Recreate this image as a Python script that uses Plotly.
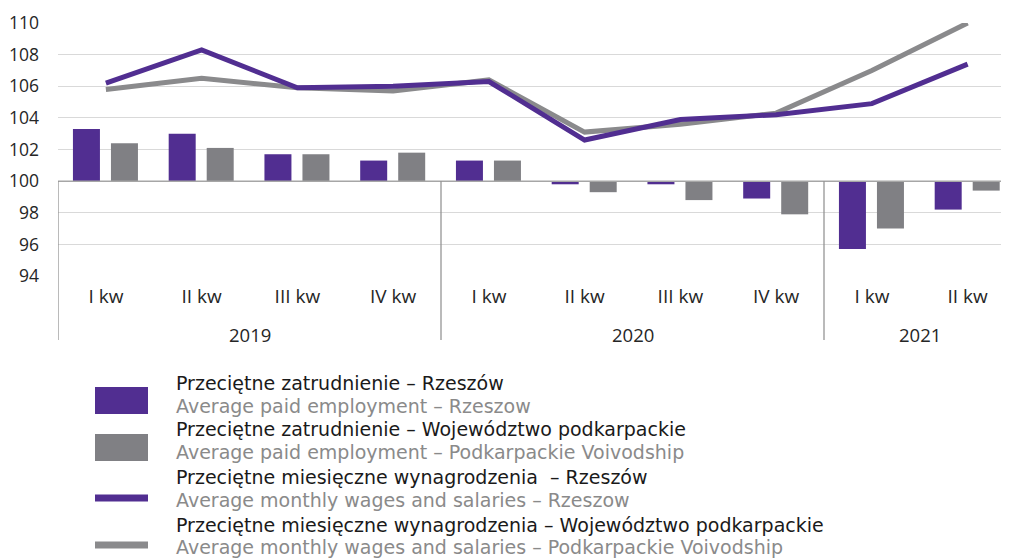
import plotly.graph_objects as go

quarters = ["I kw", "II kw", "III kw", "IV kw", "I kw", "II kw", "III kw", "IV kw", "I kw", "II kw"]
years = ["2019", "2020", "2021"]
year_groups = [(0, 3), (4, 7), (8, 9)]

emp_rzeszow = [103.3, 103.0, 101.7, 101.3, 101.3, 99.8, 99.8, 98.9, 95.7, 98.2]
emp_podkarpackie = [102.4, 102.1, 101.7, 101.8, 101.3, 99.3, 98.8, 97.9, 97.0, 99.4]
wage_rzeszow = [106.2, 108.3, 105.9, 106.0, 106.3, 102.6, 103.9, 104.2, 104.9, 107.4]
wage_podkarpackie = [105.8, 106.5, 105.9, 105.7, 106.4, 103.1, 103.6, 104.3, 107.0, 110.0]

legend_pl = [
    "Przeciętne zatrudnienie – Rzeszów",
    "Przeciętne zatrudnienie – Województwo podkarpackie",
    "Przeciętne miesięczne wynagrodzenia  – Rzeszów",
    "Przeciętne miesięczne wynagrodzenia – Województwo podkarpackie",
]
legend_en = [
    "Average paid employment – Rzeszow",
    "Average paid employment – Podkarpackie Voivodship",
    "Average monthly wages and salaries – Rzeszow",
    "Average monthly wages and salaries – Podkarpackie Voivodship",
]

PURPLE = "#512e91"
GRAY_BAR = "#808084"
GRAY_LINE = "#8a8a8c"
BASE = 100

OFF = 8  # page body margin
W, H = 1009 - OFF, 560 - OFF
L, R, T, B = 58 - OFF, 0, 23 - OFF, 284
PW, PH = W - L - R, H - T - B
YMIN, YMAX = 94, 110
CAT = 95.75  # px per category
XMIN = -0.5
XMAX = XMIN + PW / CAT

def px_x(p):
    return (p - OFF - L) / PW

def px_y(p):
    return (H - B - (p - OFF)) / PH

x = list(range(len(quarters)))

fig = go.Figure()
fig.add_trace(go.Bar(x=x, y=[v - BASE for v in emp_rzeszow], base=BASE,
                     width=0.282, offset=-0.344, marker=dict(color=PURPLE, line=dict(width=0)),
                     showlegend=False))
fig.add_trace(go.Bar(x=x, y=[v - BASE for v in emp_podkarpackie], base=BASE,
                     width=0.282, offset=0.053, marker=dict(color=GRAY_BAR, line=dict(width=0)),
                     showlegend=False))
fig.add_trace(go.Scatter(x=x, y=wage_podkarpackie, mode="lines",
                         line=dict(color=GRAY_LINE, width=5), showlegend=False))
fig.add_trace(go.Scatter(x=x, y=wage_rzeszow, mode="lines",
                         line=dict(color=PURPLE, width=5), showlegend=False))

shapes = []
y100 = (BASE - YMIN) / (YMAX - YMIN)
ybot = px_y(340)
shapes.append(dict(type="line", xref="paper", yref="y", x0=0, x1=1, y0=BASE, y1=BASE,
                   line=dict(color="#a6a6a6", width=1.5), layer="above"))
for xs in [XMIN, 3.5, 7.5]:
    shapes.append(dict(type="line", xref="x", yref="paper", x0=xs, x1=xs, y0=y100, y1=ybot,
                       line=dict(color="#8c8c8c", width=1.2), layer="above"))

annotations = []
for label, (a, b) in zip(years, year_groups):
    annotations.append(dict(x=(a + b) / 2, y=px_y(334), xref="x", yref="paper", text=label,
                            showarrow=False, xanchor="center", yanchor="middle",
                            font=dict(family="Open Sans", size=18.5, color="#262626")))

sym_x0, sym_x1 = px_x(95), px_x(148)
line_ys = [383, 406, 429, 452, 477, 500, 525, 547]
shapes.append(dict(type="rect", xref="paper", yref="paper", x0=sym_x0, x1=sym_x1,
                   y0=px_y(414), y1=px_y(387), fillcolor=PURPLE, line=dict(width=0)))
shapes.append(dict(type="rect", xref="paper", yref="paper", x0=sym_x0, x1=sym_x1,
                   y0=px_y(461), y1=px_y(434), fillcolor=GRAY_BAR, line=dict(width=0)))
for yy, col in [(498, PURPLE), (545, GRAY_LINE)]:
    shapes.append(dict(type="rect", xref="paper", yref="paper", x0=sym_x0, x1=sym_x1,
                       y0=px_y(yy + 3.5), y1=px_y(yy - 3.5), fillcolor=col, line=dict(width=0)))
for i in range(4):
    annotations.append(dict(x=px_x(175), y=px_y(line_ys[2 * i]), xref="paper", yref="paper",
                            text=legend_pl[i], showarrow=False, xanchor="left", yanchor="middle",
                            borderpad=0,
                            font=dict(family="DejaVu Sans", size=19, color="#1a1a1a")))
    annotations.append(dict(x=px_x(175), y=px_y(line_ys[2 * i + 1]), xref="paper", yref="paper",
                            text=legend_en[i], showarrow=False, xanchor="left", yanchor="middle",
                            borderpad=0,
                            font=dict(family="DejaVu Sans", size=19, color="#8a8a8a")))

fig.update_layout(
    width=W, height=H,
    margin=dict(l=L, r=R, t=T, b=B, pad=0),
    paper_bgcolor="white", plot_bgcolor="white",
    barmode="overlay",
    shapes=shapes, annotations=annotations,
    showlegend=False,
    xaxis=dict(range=[XMIN, XMAX], tickmode="array", tickvals=x, ticktext=quarters,
               showgrid=False, zeroline=False, showline=False, ticks="",
               tickfont=dict(family="Open Sans", size=19, color="#262626"),
               ticklabelstandoff=7),
    yaxis=dict(range=[YMIN, YMAX], tickmode="linear", tick0=94, dtick=2,
               showgrid=True, gridcolor="#d9d9d9", gridwidth=1, zeroline=False,
               showline=False, ticks="",
               tickfont=dict(family="Open Sans", size=17.5, color="#262626"),
               ticklabelstandoff=18),
)

fig.write_html("out.html")
